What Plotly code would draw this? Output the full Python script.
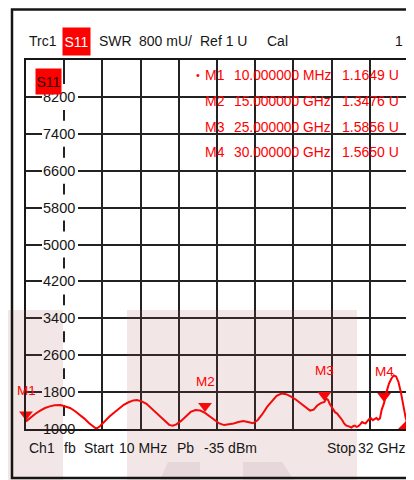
import plotly.graph_objects as go

# ==================== Data ====================
freq_ghz = [0.01, 0.4, 0.8, 1.2, 1.6, 2.0, 2.4, 2.9, 3.3, 3.7, 4.1, 4.5, 4.9, 5.3, 5.6, 5.9,
            6.2, 6.6, 7.0, 7.4, 7.8, 8.2, 8.6, 9.0, 9.3, 9.7, 10.1, 10.5, 10.9, 11.3, 11.7,
            12.0, 12.3, 12.6, 13.0, 13.4, 13.8, 14.2, 14.6, 15.0, 15.4, 15.8, 16.2, 16.6,
            17.0, 17.4, 17.8, 18.2, 18.6, 19.0, 19.4, 19.8, 20.2, 20.6, 21.0, 21.4, 21.8,
            22.2, 22.6, 23.0, 23.4, 23.8, 24.1, 24.4, 24.7, 25.0, 25.15, 25.3, 25.45, 25.6,
            25.9, 26.05, 26.2, 26.35, 26.5, 26.65, 26.8, 27.1, 27.25, 27.4, 27.55, 27.7,
            27.85, 28.0, 28.15, 28.3, 28.45, 28.6, 28.75, 28.9, 29.05, 29.2, 29.35, 29.5,
            29.65, 29.8, 30.0, 30.2, 30.4, 30.6, 30.8, 31.0, 31.2, 31.4, 31.6, 31.8, 32.0]
swr_mu = [1165, 1250, 1330, 1400, 1455, 1490, 1515, 1520, 1495, 1455, 1390, 1310, 1225, 1125,
          1055, 1005, 1060, 1170, 1270, 1360, 1450, 1525, 1580, 1620, 1630, 1600, 1545, 1450,
          1345, 1240, 1150, 1090, 1070, 1100, 1175, 1280, 1370, 1410, 1400, 1348, 1270, 1185,
          1120, 1085, 1095, 1120, 1150, 1175, 1150, 1125, 1190, 1320, 1480, 1610, 1720, 1770,
          1755, 1700, 1640, 1560, 1480, 1400, 1420, 1510, 1560, 1586, 1660, 1630, 1540, 1470,
          1360, 1340, 1290, 1250, 1190, 1120, 1080, 1050, 1030, 1060, 1075, 1045, 1060, 1100,
          1150, 1130, 1120, 1170, 1215, 1235, 1190, 1215, 1240, 1200, 1230, 1420, 1565, 1800,
          1980, 2090, 2160, 2140, 2020, 1800, 1530, 1250, 1080]

marker_names = ["M1", "M2", "M3", "M4"]
marker_freq_ghz = [0.01, 15, 25, 30]
marker_freq_text = ["10.000000 MHz", "15.000000 GHz", "25.000000 GHz", "30.000000 GHz"]
marker_swr_u = [1.1649, 1.3476, 1.5856, 1.5650]

y_ticks = [8200, 7400, 6600, 5800, 5000, 4200, 3400, 2600, 1800, 1000]

# ==================== Layout geometry ====================
# page body has an 8px margin, so the figure is shifted by 8px on screen
W, H = 414, 480
OFF = 8
PL, PT, PW, PH = 26, 60, 382, 369        # plot area in screen pixels
ML, MT = PL - OFF, PT - OFF
MR, MB = W - ML - PW, H - MT - PH
X0, X1 = 0.01, 32.0
Y0, Y1 = 1000, 9000
UPP = (Y1 - Y0) / PH                      # y units per pixel
FONT = "Liberation Sans, Arial"
RED = "#ff0000"
INK = "#161616"


def px_x(px):
    return (px - PL) / PW


def px_y(py):
    return (PT + PH - py) / PH


def data_x(px):
    return X0 + px_x(px) * (X1 - X0)


def label(x, y, text, anchor="left", size=14, color=INK, **kw):
    return dict(x=px_x(x), y=px_y(y), xref="paper", yref="paper", text=text,
                xanchor=anchor, yanchor="middle", showarrow=False,
                font=dict(family=FONT, size=size, color=color), **kw)


def poly(pts):
    return "M " + " L ".join(f"{px_x(a):.4f},{px_y(b):.4f}" for a, b in pts) + " Z"


fig = go.Figure()

# trace
fig.add_trace(go.Scatter(x=freq_ghz, y=swr_mu, mode="lines",
                         line=dict(color=RED, width=2), hoverinfo="skip"))

# marker triangles (tip sits on the value)
fig.add_trace(go.Scatter(
    x=marker_freq_ghz, y=[v * 1000 + 7 * UPP for v in marker_swr_u], mode="markers",
    marker=dict(symbol="triangle-down", size=12, color=RED), cliponaxis=False,
    hoverinfo="skip"))

shapes = []
annotations = []

# white boxes behind y labels (above grid, below trace)
for t in y_ticks:
    shapes.append(dict(type="rect", xref="x", yref="y", layer="between",
                       x0=data_x(42), x1=data_x(78), y0=t - 13 * UPP, y1=t + 13 * UPP,
                       fillcolor="white", line=dict(width=0)))
    annotations.append(dict(x=px_x(77), y=t, xref="paper", yref="y", text=str(t),
                            xanchor="right", yanchor="middle", showarrow=False,
                            font=dict(family=FONT, size=14.5, color=INK)))

# marker labels on the trace
for n, f, v in zip(marker_names, marker_freq_ghz, marker_swr_u):
    annotations.append(dict(x=f, y=v * 1000, xref="x", yref="y", text=n, showarrow=False,
                            yanchor="middle", yshift=31,
                            font=dict(family=FONT, size=13.5, color=RED)))

# marker table
row_y = [75, 101, 127, 152]
for i, (n, ft, v) in enumerate(zip(marker_names, marker_freq_text, marker_swr_u)):
    annotations.append(label(203, row_y[i], n, color=RED))
    annotations.append(label(232, row_y[i], ft, color=RED, size=13.8))
    annotations.append(label(401, row_y[i], f"{v:.4f} U", anchor="right", color=RED))
annotations.append(label(202, 75, "•", anchor="right", color=RED, size=11))

# S11 tag inside plot
annotations.append(label(35, 81, "S11", bgcolor=RED, width=25, height=25, borderpad=0,
                         color="#300", size=14))

# header line
for txt, x in [("Trc1", 27), ("SWR", 97), ("800 mU/", 137), ("Ref 1 U", 198), ("Cal", 265)]:
    annotations.append(label(x, 41, txt))
annotations.append(label(62, 41, "S11", bgcolor=RED, width=27, height=27, borderpad=0,
                         color="white"))
annotations.append(label(405, 41, "1", anchor="right"))

# footer line
for txt, x in [("Ch1", 27), ("fb", 62), ("Start", 82), ("10 MHz", 117), ("Pb", 175),
               ("-35 dBm", 202), ("Stop", 325)]:
    annotations.append(label(x, 448, txt))
annotations.append(label(407, 448, "32 GHz", anchor="right"))

# small red corner flag at the stop frequency
shapes.append(dict(type="path", xref="paper", yref="paper", layer="above",
                   path=poly([(398, 429), (407, 429), (407, 420)]),
                   fillcolor=RED, line=dict(width=0)))

# watermark tint over everything
for a, b in [(0, 63), (127, 357)]:
    shapes.append(dict(type="rect", xref="paper", yref="paper", layer="above",
                       x0=px_x(a), x1=px_x(b), y0=px_y(310), y1=px_y(480),
                       fillcolor="rgba(170,75,75,0.14)", line=dict(width=0)))
for pts in [[(160, 480), (168, 462), (200, 462), (200, 480)],
            [(243, 480), (243, 462), (282, 462), (294, 480)]]:
    shapes.append(dict(type="path", xref="paper", yref="paper", layer="above", path=poly(pts),
                       fillcolor="rgba(120,100,100,0.10)", line=dict(width=0)))

# outer frame
shapes.append(dict(type="rect", xref="paper", yref="paper", layer="above",
                   x0=px_x(12), x1=px_x(413), y0=px_y(478), y1=px_y(9.5),
                   line=dict(color=INK, width=2.5)))

fig.update_layout(
    width=W, height=H,
    margin=dict(l=ML, r=MR, t=MT, b=MB),
    paper_bgcolor="white", plot_bgcolor="white",
    showlegend=False,
    shapes=shapes, annotations=annotations,
    xaxis=dict(range=[X0, X1], tick0=X0, dtick=(X1 - X0) / 10, showticklabels=False,
               ticks="", showgrid=True, gridcolor="#222", gridwidth=1.6, zeroline=False,
               showline=True, linecolor=INK, linewidth=2, mirror=True, fixedrange=True),
    yaxis=dict(range=[Y0, Y1], tick0=Y0, dtick=800, showticklabels=False, ticks="",
               showgrid=True, gridcolor="#222", gridwidth=1.6, zeroline=False,
               showline=True, linecolor=INK, linewidth=2, mirror=True, fixedrange=True),
)

fig.write_html("out.html")
